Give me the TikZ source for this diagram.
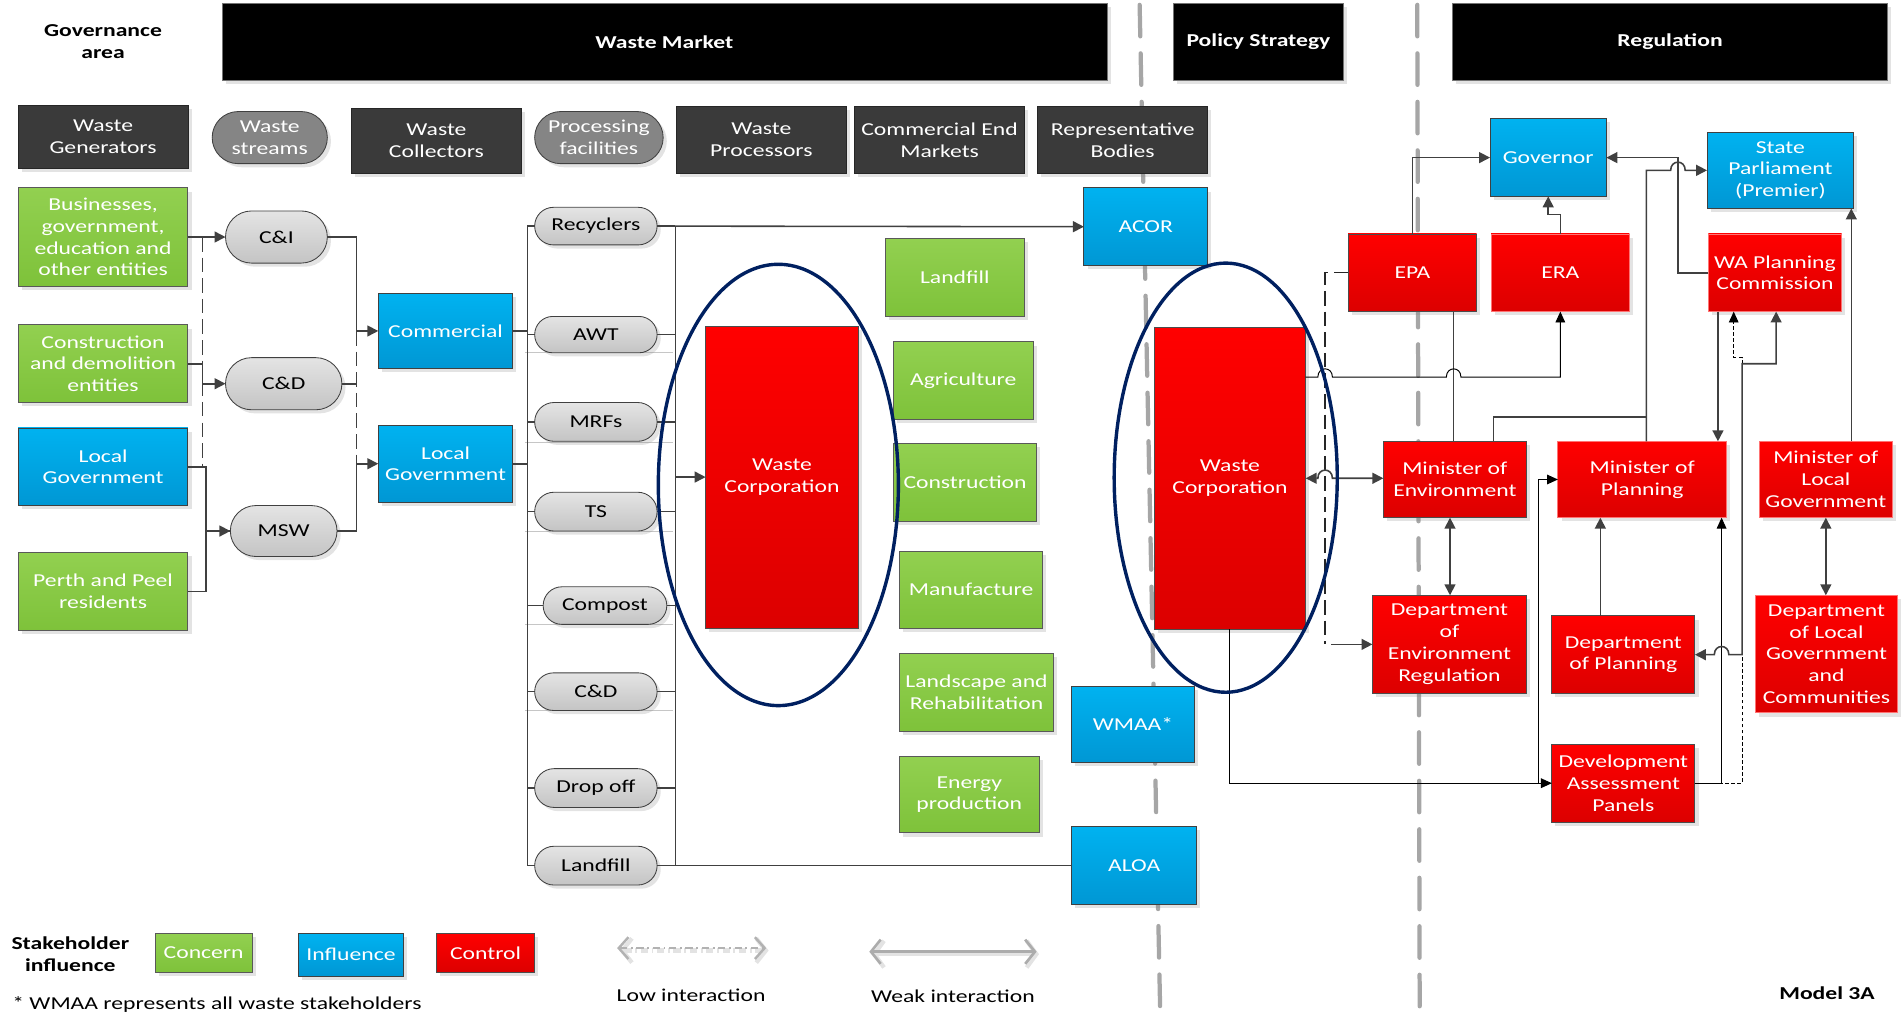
\documentclass[tikz,border=0pt]{standalone}
\usepackage{fontspec}
\setmainfont{Carlito}[FakeStretch=1.3]
\usetikzlibrary{arrows.meta,shadows,shapes.misc}

\definecolor{gbar}{HTML}{3A3A3A}
\definecolor{cgreenT}{HTML}{92D050}
\definecolor{cgreenB}{HTML}{7EC23A}
\definecolor{cblueT}{HTML}{00B2F0}
\definecolor{cblueB}{HTML}{0097D4}
\definecolor{credT}{HTML}{FF0000}
\definecolor{credB}{HTML}{DC0000}
\definecolor{navy}{HTML}{002060}
\definecolor{wire}{HTML}{404040}
\definecolor{sepgray}{HTML}{A6A6A6}
\definecolor{pillT}{HTML}{E4E4E4}
\definecolor{pillB}{HTML}{C4C4C4}

\newcommand\fs{\fontsize{15}{18}\selectfont}
% box from its corners: style, name, x1, y1, x2, y2, text
\newcommand\nb[7]{\node[#1, minimum width={#5-#3}, minimum height={#6-#4}] (#2) at ({(#3+#5)/2},{(#4+#6)/2}) {#7};}

\tikzset{
  base/.style={outer sep=0pt, inner sep=1pt, align=center, font=\fs,
    drop shadow={shadow xshift=3pt, shadow yshift=-3pt, opacity=0.22}},
  hdr/.style={base, fill=gbar, draw=black!85, text=white, line width=0.6pt},
  bar/.style={base, fill=black, draw=black!55, text=white, font=\fs\bfseries, line width=0.6pt},
  concern/.style={base, top color=cgreenT, bottom color=cgreenB, draw=black!65, text=white, line width=0.7pt},
  influence/.style={base, top color=cblueT, bottom color=cblueB, draw=black!75, text=white, line width=0.7pt},
  control/.style={base, top color=credT, bottom color=credB, draw=black!70, text=white, line width=0.7pt},
  controlL/.style={control, draw=red!55!white},
  pill/.style={base, rounded rectangle, top color=pillT, bottom color=pillB, draw=black!75, line width=0.7pt},
  darkpill/.style={base, rounded rectangle, fill=black!48, draw=black!75, text=white, line width=0.7pt},
  conn/.style={draw=wire, line width=1.3pt, >={Triangle[length=9pt,width=9pt]}},
  hair/.style={draw=black, line width=0.8pt, >={Triangle[length=9pt,width=8pt]}},
  longdash/.style={dash pattern=on 12pt off 5pt},
  finedash/.style={dash pattern=on 3pt off 2pt},
  sepline/.style={draw=sepgray, line width=3.5pt, line cap=round, dash pattern=on 26pt off 14pt},
  goal/.style={draw=navy, line width=2.8pt},
}

\begin{document}
\begin{tikzpicture}[x=1pt,y=-1pt]
\useasboundingbox (0,0) rectangle (1568,837);

% area separators
\draw[sepline] (940,4) -- (957,837);
\draw[sepline] (1169,4) -- (1171,837);

% faint rules under the processing facilities
\foreach \yy in {291,365,438,515,586} \draw[gray!45, line width=0.6pt] (433,\yy) -- (555,\yy);

% title row
\node[font=\fs\bfseries, align=center] (govarea) at (85,34) {Governance\\area};
\nb{bar}{barMarket}{183}{3}{913}{66}{Waste Market}
\nb{bar}{barPolicy}{968}{3}{1108}{66}{Policy Strategy}
\nb{bar}{barReg}{1198}{3}{1557}{66}{Regulation}

% category row
\nb{hdr}{hGen}{15}{87}{155}{139}{Waste\\Generators}
\nb{darkpill}{hStr}{174}{92}{271}{135}{Waste\\streams}
\nb{hdr}{hCol}{290}{89}{430}{143}{Waste\\Collectors}
\nb{darkpill}{hFac}{440}{92}{548}{135}{Processing\\facilities}
\nb{hdr}{hPro}{558}{88}{698}{143}{Waste\\Processors}
\nb{hdr}{hEnd}{705}{88}{845}{143}{Commercial End\\Markets}
\nb{hdr}{hRep}{856}{88}{996}{143}{Representative\\Bodies}

% waste generators
\nb{concern}{Bus}{15}{155}{155}{236}{Businesses,\\government,\\education and\\other entities}
\nb{concern}{Con}{15}{268}{155}{332}{Construction\\and demolition\\entities}
\nb{influence}{LGg}{15}{353}{155}{417}{Local\\Government}
\nb{concern}{Perth}{15}{456}{155}{520}{Perth and Peel\\residents}

% waste streams
\nb{pill}{CI}{185}{174}{271}{217}{C\&I}
\nb{pill}{CD}{185}{295}{283}{338}{C\&D}
\nb{pill}{MSW}{189}{417}{279}{459}{MSW}

% collectors
\nb{influence}{Com}{312}{242}{423}{304}{Commercial}
\nb{influence}{LGc}{312}{351}{423}{414}{Local\\Government}

% processing facilities
\nb{pill}{Rec}{440}{171}{543}{202}{Recyclers}
\nb{pill}{AWT}{440}{261}{543}{291}{AWT}
\nb{pill}{MRF}{440}{332}{543}{364}{MRFs}
\nb{pill}{TS}{440}{406}{543}{438}{TS}
\nb{pill}{Comp}{447}{484}{551}{515}{Compost}
\nb{pill}{CDp}{440}{555}{543}{586}{C\&D}
\nb{pill}{Drop}{440}{634}{543}{666}{Drop off}
\nb{pill}{LandP}{440}{698}{543}{730}{Landfill}

% processors and end markets
\nb{control}{WCa}{582}{269}{708}{518}{Waste\\Corporation}
\nb{concern}{mLand}{730}{197}{845}{261}{Landfill}
\nb{concern}{mAgri}{737}{282}{852}{346}{Agriculture}
\nb{concern}{mCons}{737}{366}{855}{430}{Construction}
\nb{concern}{mManu}{742}{455}{860}{518}{Manufacture}
\nb{concern}{mLands}{742}{539}{869}{603}{Landscape and\\Rehabilitation}
\nb{concern}{mEner}{742}{624}{857}{687}{Energy\\production}

% representative bodies
\nb{influence}{ACOR}{894}{155}{996}{219}{ACOR}
\nb{influence}{WMAA}{884}{566}{985}{629}{WMAA*}
\nb{influence}{ALOA}{884}{682}{987}{746}{ALOA}

% policy strategy
\nb{control}{WCb}{952}{270}{1077}{519}{Waste\\Corporation}

% regulation
\nb{influence}{Gov}{1229}{98}{1325}{162}{Governor}
\nb{influence}{SP}{1408}{109}{1529}{172}{State\\Parliament\\(Premier)}
\nb{control}{EPA}{1112}{193}{1218}{257}{EPA}
\nb{controlL}{ERA}{1230}{193}{1344}{257}{ERA}
\nb{controlL}{WAPC}{1409}{193}{1519}{257}{WA Planning\\Commission}
\nb{control}{MoE}{1141}{364}{1259}{427}{Minister of\\Environment}
\nb{controlL}{MoP}{1285}{364}{1424}{427}{Minister of\\Planning}
\nb{controlL}{MoLG}{1451}{364}{1561}{427}{Minister of\\Local\\Government}
\nb{control}{DoER}{1132}{491}{1259}{572}{Department\\of\\Environment\\Regulation}
\nb{control}{DoP}{1280}{508}{1398}{572}{Department\\of Planning}
\nb{controlL}{DoLGC}{1448}{491}{1565}{588}{Department\\of Local\\Government\\and\\Communities}
\nb{control}{DAP}{1280}{614}{1398}{678}{Development\\Assessment\\Panels}

% legend
\node[font=\fs\bfseries, align=center] (leg) at (58,787) {Stakeholder\\influence};
\nb{concern}{lConcern}{128}{770}{208}{802}{Concern}
\nb{influence}{lInfluence}{246}{770}{333}{805}{Influence}
\nb{control}{lControl}{360}{770}{441}{802}{Control}
\node[font=\fs] (lowlbl) at (570,821) {Low interaction};
\node[font=\fs] (weaklbl) at (786,822) {Weak interaction};
\node[font=\fs\bfseries] (model) at (1507,819) {Model 3A};
\node[font=\fs, anchor=base west, inner sep=0pt] (note) at (10,833) {* WMAA represents all waste stakeholders};

% junction columns and rows
\coordinate (gA) at (167,0);
\coordinate (gB) at (170,0);
\coordinate (cA) at (294,0);
\coordinate (busL) at (435,0);
\coordinate (busR) at (557,0);
\coordinate (dE) at (1093,0);
\coordinate (e1) at (1199,0);
\coordinate (e2) at (1196,0);
\coordinate (m1) at (1232,0);
\coordinate (p1) at (1358,0);
\coordinate (g1) at (1384,0);
\coordinate (w1) at (1417,0);
\coordinate (w2) at (1430,0);
\coordinate (c1437) at (1437,0);
\coordinate (w3) at (1465,0);
\coordinate (k1) at (1269,0);
\coordinate (k2) at (1420,0);
\coordinate (k3) at (1320,0);
\coordinate (ml) at (1527,0);
\coordinate (r177) at (0,177);
\coordinate (r295) at (0,295);
\coordinate (r300) at (0,300);
\coordinate (r311) at (0,311);
\coordinate (r344) at (0,344);

% generators to waste streams
\draw[conn,->] (Bus.east) -- (CI.west);
\draw[conn,->] (Con.east) -- (Con.east -| gA) |- (CD.west);
\draw[conn,->] (LGg.east) -- (LGg.east -| gB) |- (MSW.west);
\draw[conn] (Perth.east) -- (Perth.east -| gB) |- (MSW.west);
\draw[conn,longdash] (gA |- Bus.east) -- (gA |- LGg.east);

% waste streams to collectors
\draw[conn,->] (CI.east) -- (CI.east -| cA) |- (Com.west);
\draw[conn] (CD.east) -- (CD.east -| cA);
\draw[conn,longdash] (cA |- Com.west) -- (cA |- LGc.west);
\draw[conn,->] (MSW.east) -- (MSW.east -| cA) |- (LGc.west);

% collectors to processing facilities
\draw[conn] (Com.east) -- (Com.east -| busL);
\draw[conn] (LGc.east) -- (LGc.east -| busL);
\draw[conn] (busL |- Rec.west) -- (busL |- LandP.west);
\draw[conn] (busR |- Rec.east) -- (busR |- LandP.east);
\foreach \p in {Rec,AWT,MRF,TS,Comp,CDp,Drop,LandP}{
  \draw[conn] (busL |- \p.west) -- (\p.west);
  \draw[conn] (\p.east) -- (busR |- \p.east);
}
\draw[conn,->] (busR |- WCa.west) -- (WCa.west);
\draw[conn,->] (Rec.east) -- (ACOR.west);
\draw[conn] (LandP.east) -- (ALOA.west);

% regulation links
\draw[conn,->] (EPA.north) |- (Gov.west);
\draw[conn,->] (ERA.north) -- (ERA.north |- r177) -| (Gov.south);
\draw[conn,->] (WAPC.west) -- (WAPC.west -| g1) |- (Gov.east);
\coordinate (hD) at (g1 |- SP.west);
\draw[conn,->] (p1 |- MoP.north) -- (p1 |- SP.west) -- ([xshift=-6pt]hD)
  .. controls +(0,-9) and +(0,-9) .. ([xshift=6pt]hD) -- (SP.west);
\draw[conn] (m1 |- MoE.north) -- (m1 |- r344) -- (p1 |- r344);
\draw[conn] (e1 |- EPA.south) -- (e1 |- MoE.north);
\draw[conn,->] (ml |- MoLG.north) -- (ml |- SP.south);
\draw[conn,->] (w1 |- WAPC.south) -- (w1 |- MoP.north);
\draw[conn,<->] (MoE.south -| e2) -- (e2 |- DoER.north);
\draw[conn,<->] (MoLG.south) -- (MoLG.south |- DoLGC.north);
\draw[conn,->] (k3 |- DoP.north) -- (k3 |- MoP.south);

% EPA low interaction to the department
\draw[draw=black!85, line width=1.1pt, longdash] (EPA.west) -- (dE |- EPA.west) -- (dE |- DoER.west);
\draw[conn,->] ([xshift=5pt]dE |- DoER.west) -- (DoER.west);

% Waste Corporation links
\coordinate (hA) at (dE |- WCb.east);
\draw[conn,<->] (WCb.east) -- ([xshift=-6pt]hA)
  .. controls +(0,-9) and +(0,-9) .. ([xshift=6pt]hA) -- (MoE.west |- WCb.east);
\coordinate (hB) at (dE |- r311);
\coordinate (hC) at (e1 |- r311);
\draw[hair,->] (WCb.east |- r311) -- ([xshift=-6pt]hB)
  .. controls +(0,-9) and +(0,-9) .. ([xshift=6pt]hB) -- ([xshift=-6pt]hC)
  .. controls +(0,-9) and +(0,-9) .. ([xshift=6pt]hC) -| (ERA.south);
\draw[hair,->] (WCb.south) -- (WCb.south |- DAP.west) -- (DAP.west);
\draw[hair,->] (k1 |- DAP.west) -- (k1 |- MoP.west) -- (MoP.west);
\draw[hair,->] (DAP.east) -- (k2 |- DAP.east) -- (k2 |- MoP.south);
\draw[hair,finedash,->] (DAP.east) -- (c1437 |- DAP.east) -- (c1437 |- r295) -- (w2 |- r295) -- (w2 |- WAPC.south);
\coordinate (hE) at (k2 |- DoP.east);
\draw[conn,<->] (DoP.east) -- ([xshift=-6pt]hE)
  .. controls +(0,-9) and +(0,-9) .. ([xshift=6pt]hE) -- (c1437 |- DoP.east) -- (c1437 |- r300) -| (w3 |- WAPC.south);

% the two Waste Corporation rings
\draw[goal] (642,400) ellipse [x radius=99, y radius=182];
\draw[goal] (1011,394) ellipse [x radius=92, y radius=177];

% interaction legend arrows
\coordinate (la1) at (509,782);
\coordinate (la2) at (632,782);
\coordinate (wa1) at (717,785);
\coordinate (wa2) at (855,785);
\draw[draw=gray!22, line width=3.5pt, dash pattern=on 6pt off 3pt on 1.5pt off 3pt,
  {Straight Barb[length=8pt,width=20pt]}-{Straight Barb[length=8pt,width=20pt]}]
  ([shift={(2pt,-2pt)}]la1) -- ([shift={(2pt,-2pt)}]la2);
\draw[draw=gray!60, line width=2pt, dash pattern=on 6pt off 3pt on 1.5pt off 3pt,
  {Straight Barb[length=8pt,width=18pt]}-{Straight Barb[length=8pt,width=18pt]}] (la1) -- (la2);
\draw[draw=gray!22, line width=3.5pt,
  {Straight Barb[length=8pt,width=22pt]}-{Straight Barb[length=8pt,width=22pt]}]
  ([shift={(2pt,-2pt)}]wa1) -- ([shift={(2pt,-2pt)}]wa2);
\draw[draw=gray!65, line width=2.2pt,
  {Straight Barb[length=8pt,width=20pt]}-{Straight Barb[length=8pt,width=20pt]}] (wa1) -- (wa2);
\end{tikzpicture}
\end{document}
